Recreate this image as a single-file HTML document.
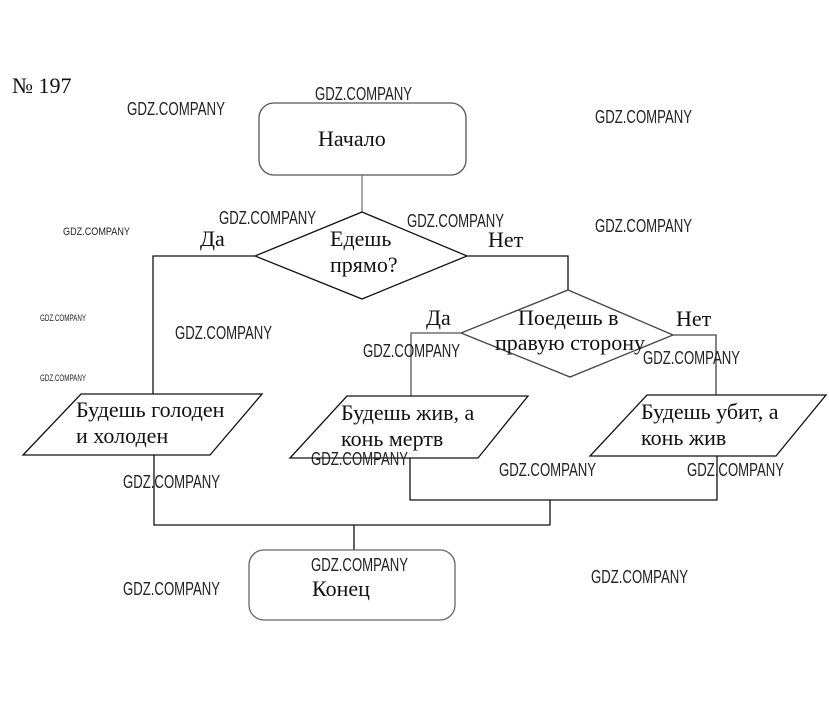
<!DOCTYPE html>
<html><head><meta charset="utf-8"><style>
body{margin:0;background:#fff;width:829px;height:724px;overflow:hidden}
svg{display:block}
.t{font-family:"Liberation Serif","DejaVu Serif",serif;font-size:22px;fill:#111}
.w{font-family:"Liberation Sans",sans-serif;fill:#222}
</style></head><body>
<svg width="829" height="724" viewBox="0 0 829 724" xmlns="http://www.w3.org/2000/svg">
<g fill="none" stroke="#111" stroke-width="1.3">
<rect x="259" y="103" width="207" height="72" rx="15" stroke="#555"/>
<line x1="362" y1="175" x2="362" y2="212" stroke="#777"/>
<polygon points="362,212 467,256 362,299 255,256"/>
<polyline points="255,256 153,256 153,394"/>
<polyline points="467,256 568,256 568,290"/>
<polygon points="568,290 673,335 570,377 461,333" stroke="#444"/>
<polyline points="461,333 411,333 411,396" stroke="#555"/>
<polyline points="673,335 716,335 716,395" stroke="#444"/>
<polygon points="81,394 262,394 210,455 23,455"/>
<polygon points="347,396 528,396 478,458 290,458"/>
<polygon points="647,395 826,395 776,456 590,456"/>
<polyline points="154,455 154,525 550,525"/>
<polyline points="410,458 410,500 717,500 717,456"/>
<line x1="550" y1="500" x2="550" y2="525"/>
<line x1="354" y1="525" x2="354" y2="550"/>
<rect x="249" y="550" width="206" height="70" rx="15" stroke="#666"/>
</g>
<text class="t" x="12" y="93" font-size="21">№ 197</text>
<text class="t" x="318" y="146" font-size="23" fill="#666">Начало</text>
<text class="t" x="330" y="246">Едешь</text>
<text class="t" x="330" y="272">прямо?</text>
<text class="t" x="200" y="246" font-size="19">Да</text>
<text class="t" x="488" y="247" font-size="19">Нет</text>
<text class="t" x="426" y="325" font-size="19" fill="#777">Да</text>
<text class="t" x="676" y="326" font-size="19" fill="#555">Нет</text>
<text class="t" x="518" y="325" fill="#888">Поедешь в</text>
<text class="t" x="495" y="350" fill="#888">правую сторону</text>
<text class="t" x="76" y="417">Будешь голоден</text>
<text class="t" x="76" y="443">и холоден</text>
<text class="t" x="341" y="420">Будешь жив, а</text>
<text class="t" x="341" y="446">конь мертв</text>
<text class="t" x="641" y="419">Будешь убит, а</text>
<text class="t" x="641" y="445">конь жив</text>
<text class="t" x="312" y="596" font-size="22" fill="#555">Конец</text>
<g class="w" font-size="18">
<text x="127" y="115" textLength="98" lengthAdjust="spacingAndGlyphs">GDZ.COMPANY</text>
<text x="315" y="100" textLength="97" lengthAdjust="spacingAndGlyphs">GDZ.COMPANY</text>
<text x="595" y="123" textLength="97" lengthAdjust="spacingAndGlyphs">GDZ.COMPANY</text>
<text x="219" y="224" textLength="97" lengthAdjust="spacingAndGlyphs">GDZ.COMPANY</text>
<text x="407" y="227" textLength="97" lengthAdjust="spacingAndGlyphs">GDZ.COMPANY</text>
<text x="595" y="232" textLength="97" lengthAdjust="spacingAndGlyphs">GDZ.COMPANY</text>
<text x="175" y="339" textLength="97" lengthAdjust="spacingAndGlyphs">GDZ.COMPANY</text>
<text x="363" y="357" textLength="97" lengthAdjust="spacingAndGlyphs">GDZ.COMPANY</text>
<text x="643" y="364" textLength="97" lengthAdjust="spacingAndGlyphs">GDZ.COMPANY</text>
<text x="311" y="465" textLength="97" lengthAdjust="spacingAndGlyphs">GDZ.COMPANY</text>
<text x="499" y="476" textLength="97" lengthAdjust="spacingAndGlyphs">GDZ.COMPANY</text>
<text x="687" y="476" textLength="97" lengthAdjust="spacingAndGlyphs">GDZ.COMPANY</text>
<text x="123" y="488" textLength="97" lengthAdjust="spacingAndGlyphs">GDZ.COMPANY</text>
<text x="311" y="571" textLength="97" lengthAdjust="spacingAndGlyphs">GDZ.COMPANY</text>
<text x="123" y="595" textLength="97" lengthAdjust="spacingAndGlyphs">GDZ.COMPANY</text>
<text x="591" y="583" textLength="97" lengthAdjust="spacingAndGlyphs">GDZ.COMPANY</text>
</g>
<g class="w" font-size="11">
<text x="63" y="235" textLength="67" lengthAdjust="spacingAndGlyphs">GDZ.COMPANY</text>
</g>
<g class="w" font-size="9">
<text x="40" y="321" textLength="46" lengthAdjust="spacingAndGlyphs">GDZ.COMPANY</text>
<text x="40" y="381" textLength="46" lengthAdjust="spacingAndGlyphs">GDZ.COMPANY</text>
</g>
</svg>
</body></html>
